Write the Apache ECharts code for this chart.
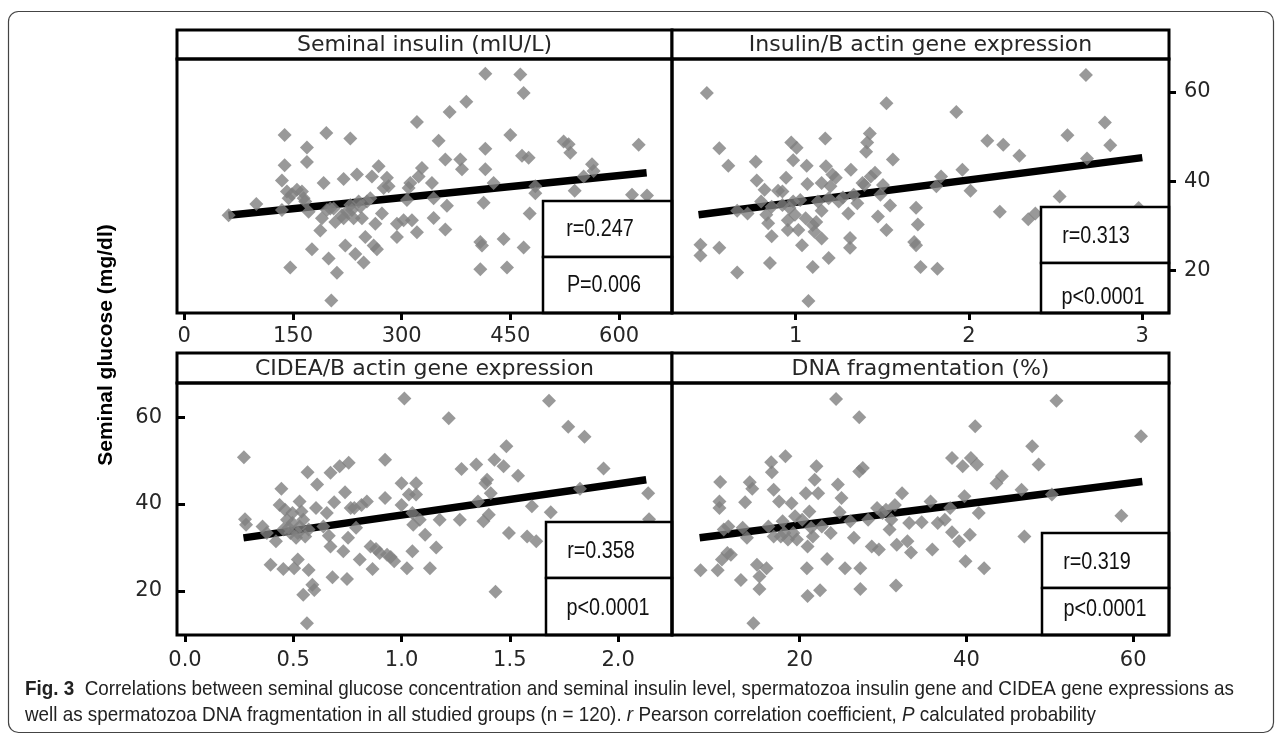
<!DOCTYPE html>
<html><head><meta charset="utf-8">
<script src="https://cdn.jsdelivr.net/npm/echarts@6/dist/echarts.min.js"></script>
<style>html,body{margin:0;padding:0;background:#fff}#c{width:1282px;height:736px}</style>
</head><body><div id="c"></div>
<script>
// ---------------- data ----------------
const panelTitles = ['Seminal insulin (mIU/L)', 'Insulin/B actin gene expression', 'CIDEA/B actin gene expression', 'DNA fragmentation (%)'];
const rTexts = ['r=0.247', 'r=0.313', 'r=0.358', 'r=0.319'];
const pTexts = ['P=0.006', 'p<0.0001', 'p<0.0001', 'p<0.0001'];
const yTitle = 'Seminal glucose (mg/dl)';

const x1Ticks = [0, 150, 300, 450, 600];
const x2Ticks = [1, 2, 3];
const x3Ticks = [0, 0.5, 1.0, 1.5, 2.0];
const x3TickLabels = ['0.0', '0.5', '1.0', '1.5', '2.0'];
const x4Ticks = [20, 40, 60];
const yTicks = [20, 40, 60];

// Panel 1: seminal insulin vs seminal glucose
const p1x = [61.2,99.4,134.8,138.5,138.5,134.8,141.7,144.0,146.3,155.5,162.4,164.7,167.0,169.3,169.3,171.6,176.2,187.7,190.0,192.3,196.0,199.2,201.5,202.9,206.1,208.4,210.7,219.9,219.9,222.2,224.5,229.1,229.1,233.7,236.0,238.3,240.6,245.2,247.5,249.8,256.7,259.0,261.3,263.6,265.9,268.2,272.8,279.7,282.0,293.5,293.5,302.7,307.3,309.6,311.9,314.2,321.1,321.1,323.4,328.0,341.8,344.1,344.1,351.0,360.2,360.2,362.5,366.2,380.9,383.2,389.2,408.5,410.8,408.5,413.1,415.4,415.4,415.4,426.9,440.7,445.3,449.9,463.7,466.0,468.3,468.3,475.2,476.6,484.4,484.4,523.5,530.4,532.7,538.7,551.1,562.6,564.9,617.8,627.0,638.5,148.6,196.9,217.6,231.4,252.1,242.9,275.1];
const p1y = [32.4,34.9,33.6,50.4,43.6,40.2,37.7,36.2,20.7,38.1,37.7,36.2,35.5,47.6,44.3,33.2,24.8,29.0,31.7,39.6,50.8,22.7,33.9,13.3,33.9,30.9,19.5,40.5,31.7,25.6,33.2,49.6,34.7,31.7,23.7,41.5,35.5,31.7,21.8,27.5,36.2,41.1,25.6,30.5,24.8,43.4,32.8,40.8,38.9,30.5,27.5,31.3,35.8,38.5,39.6,31.3,53.3,28.6,41.1,43.0,39.6,36.2,31.8,49.1,44.9,29.2,34.5,55.5,44.9,42.7,57.8,26.4,25.6,20.3,35.2,64.1,47.3,42.7,39.6,27.1,20.7,50.4,63.9,45.7,59.8,25.2,45.3,32.8,38.9,37.3,48.9,48.3,46.4,37.9,41.1,43.8,42.3,37.0,48.2,36.8,37.1,33.6,32.4,33.6,35.5,34.3,38.5];

// Panel 2: insulin/B actin gene expression
const p2x = [0.488,0.560,0.612,0.451,0.451,0.560,0.663,0.663,0.723,0.770,0.776,0.801,0.821,0.831,0.842,0.862,0.852,0.899,0.924,0.945,0.955,0.955,0.975,0.986,0.986,0.996,1.006,1.016,1.027,1.037,1.058,1.064,1.068,1.074,1.099,1.099,1.119,1.129,1.150,1.150,1.150,1.171,1.175,1.191,1.201,1.212,1.232,1.249,1.273,1.304,1.314,1.314,1.319,1.335,1.356,1.386,1.407,1.413,1.428,1.434,1.458,1.475,1.489,1.504,1.524,1.524,1.545,1.561,1.684,1.695,1.695,1.705,1.721,1.812,1.818,1.839,1.927,1.962,2.009,2.106,2.178,2.198,2.291,2.342,2.383,2.523,2.568,2.675,2.681,2.784,2.815,2.979,0.924,0.965,1.109,1.191,0.862,1.397];
const p2y = [59.8,47.4,43.5,25.8,23.4,25.1,33.4,19.6,32.8,44.4,40.2,35.5,38.1,32.5,30.6,27.7,21.7,37.9,37.7,40.8,31.3,29.1,48.7,44.7,35.5,32.5,47.5,29.1,35.8,25.7,31.7,43.5,39.4,13.2,20.8,30.2,30.9,35.5,39.6,33.4,27.2,49.6,43.4,22.8,38.9,41.5,40.8,35.5,36.4,32.8,27.3,25.1,42.6,37.0,35.1,39.6,46.6,48.7,50.7,41.1,41.9,32.1,37.0,39.2,57.5,29.1,34.6,44.9,26.4,25.7,34.1,30.3,20.8,38.9,20.4,41.1,55.5,42.6,37.9,49.1,33.2,48.2,45.7,31.5,32.8,36.6,50.3,63.8,45.1,53.2,48.1,34.0,34.7,34.0,28.7,36.2,34.3,39.2];

// Panel 3: CIDEA/B actin gene expression
const p3x = [0.272,0.277,0.282,0.358,0.378,0.395,0.420,0.437,0.445,0.454,0.462,0.471,0.479,0.487,0.496,0.504,0.513,0.521,0.529,0.529,0.538,0.546,0.555,0.563,0.566,0.571,0.588,0.597,0.605,0.610,0.639,0.655,0.664,0.672,0.672,0.681,0.689,0.714,0.731,0.739,0.748,0.753,0.756,0.765,0.782,0.790,0.807,0.815,0.840,0.857,0.866,0.882,0.899,0.924,0.924,0.933,0.950,0.966,1.000,1.000,1.013,1.025,1.034,1.050,1.050,1.054,1.067,1.067,1.084,1.109,1.131,1.160,1.176,1.218,1.269,1.277,1.345,1.353,1.378,1.387,1.395,1.403,1.412,1.429,1.434,1.471,1.484,1.496,1.538,1.580,1.602,1.622,1.681,1.689,1.770,1.824,1.845,1.933,2.139,2.143,0.496,0.521,0.546,0.454,0.571];
const p3y = [50.8,36.5,35.2,34.8,33.3,26.0,31.4,39.8,43.5,25.0,38.7,36.4,34.5,33.3,37.9,25.2,32.2,27.2,40.6,34.8,38.3,19.1,32.5,12.5,47.3,24.8,21.4,20.2,39.1,44.5,34.8,37.9,32.7,47.2,30.2,23.1,40.4,48.7,29.1,42.7,22.7,32.2,49.5,39.1,39.1,34.5,27.2,39.8,40.6,30.2,25.0,29.6,28.7,50.2,41.4,28.3,27.8,26.8,44.8,39.8,64.3,25.2,42.2,37.9,29.1,35.2,44.8,42.2,36.4,32.9,25.2,30.0,36.4,59.8,36.4,48.1,49.1,40.6,36.0,44.8,45.6,37.5,42.5,50.2,19.8,48.7,53.3,33.3,46.5,32.5,39.5,31.4,63.8,38.1,57.8,43.5,55.5,48.2,42.5,36.5,35.6,33.3,36.4,34.1,34.1];

// Panel 4: DNA fragmentation (%)
const p4x = [8.11,10.16,10.37,10.37,10.46,10.67,10.89,11.32,11.44,11.74,12.94,13.16,13.45,13.67,14.01,14.31,14.44,14.87,15.17,15.17,16.02,16.24,16.58,16.66,16.88,16.88,17.52,17.73,17.95,18.16,18.29,18.59,19.02,19.23,19.44,19.66,20.30,20.73,20.86,20.94,20.94,21.16,21.37,21.58,21.80,22.01,22.22,22.44,22.65,23.29,23.72,24.36,24.58,24.79,25.01,25.43,26.07,26.50,27.14,27.14,27.27,27.27,27.57,28.21,28.64,29.28,29.50,29.93,30.35,30.78,30.99,31.42,31.55,31.64,32.28,32.92,33.13,33.35,34.63,35.70,35.91,36.56,37.41,38.05,38.27,38.27,39.12,39.55,39.76,39.89,40.41,40.53,41.05,41.26,41.48,42.12,43.61,44.26,46.61,46.95,47.89,48.66,50.25,50.80,58.59,60.94];
const p4y = [24.7,24.7,40.6,39.1,45.1,27.2,34.1,28.7,34.8,28.3,22.5,34.5,40.4,32.2,45.0,43.5,12.5,26.0,23.3,20.4,25.2,34.8,49.6,47.3,43.3,32.5,40.6,32.5,36.0,33.3,51.0,31.8,40.2,33.3,37.2,31.8,36.4,42.5,25.2,18.8,30.2,38.3,34.5,32.5,45.6,48.7,42.5,20.1,34.8,27.3,33.3,64.2,44.5,38.1,41.4,25.2,36.0,32.2,60.0,47.5,25.2,20.4,48.3,36.4,30.2,39.1,29.5,37.9,38.7,34.1,36.4,39.8,21.2,30.6,42.5,31.4,35.6,28.8,35.8,40.6,29.5,35.6,36.4,39.1,50.6,33.5,31.4,48.7,41.8,26.8,32.9,50.6,57.9,49.1,37.9,25.2,44.8,46.4,43.3,32.5,53.3,49.1,42.2,63.8,37.3,55.6];

// regression lines as drawn (end points)
const line1x = [61, 638],  line1y = [32.4, 41.9];
const line2x = [0.44, 3.0], line2y = [32.5, 45.3];
const line3x = [0.27, 2.13], line3y = [32.2, 45.6];
const line4x = [8.0, 61.1], line4y = [32.2, 45.2];

const captionFig = 'Fig. 3';
const captionLine1 = 'Correlations between seminal glucose concentration and seminal insulin level, spermatozoa insulin gene and CIDEA gene expressions as';
const captionLine2a = 'well as spermatozoa DNA fragmentation in all studied groups (n = 120). ';
const captionLine2b = ' Pearson correlation coefficient, ';
const captionLine2c = ' calculated probability';

// ---------------- layout ----------------
const grids = [
  {left:177, top:59,  width:495, height:254},
  {left:672, top:59,  width:497, height:254},
  {left:177, top:383, width:495, height:252},
  {left:672, top:383, width:497, height:252}
];
const headerH = [29, 29, 30, 30];
const xRanges = [[-10, 673], [0.287, 3.154], [-0.037, 2.249], [4.68, 64.3]];
const yRanges = [[10.5, 67.4], [10.5, 67.4], [9.8, 67.9], [9.8, 67.9]];
const boxes = [
  {x:543, y:201, w:129, h1:56, h2:56},
  {x:1041, y:207, w:128, h1:56, h2:50},
  {x:546, y:522, w:126, h1:56, h2:57},
  {x:1042, y:533, w:127, h1:55, h2:47}
];
const rPos = [[600,230],[1096,237],[601,552],[1097,563]];
const pPos = [[604,286],[1103,298],[608,609],[1105,610]];

const FONT = '"DejaVu Sans", Verdana, sans-serif';
const ARIAL = '"Liberation Sans", Arial, sans-serif';
const TXT = '#262626';

// horizontal condensation so Liberation Sans mimics the narrow fonts of the figure
const mctx = document.createElement('canvas').getContext('2d');
mctx.font = 'bold 21px ' + ARIAL;
const wFig = mctx.measureText(captionFig).width;
mctx.font = '21px ' + ARIAL;
const wL1 = mctx.measureText('  ' + captionLine1).width;
const capScale = (1234 - 25) / (wFig + wL1);

const xs = [p1x, p2x, p3x, p4x], ys = [p1y, p2y, p3y, p4y];
const lx = [line1x, line2x, line3x, line4x], ly = [line1y, line2y, line3y, line4y];
const xTickSets = [x1Ticks, x2Ticks, x3Ticks, x4Ticks];

const chart = echarts.init(document.getElementById('c'), null, {renderer:'canvas'});

const xAxis = grids.map((g, i) => ({
  type:'value', gridIndex:i, min:xRanges[i][0], max:xRanges[i][1], position:'bottom',
  axisLine:{show:false}, splitLine:{show:false},
  axisTick:{show:true, inside:false, length:7, customValues:xTickSets[i], lineStyle:{color:'#000', width:3}},
  axisLabel:{show:true, customValues:xTickSets[i], margin: i < 2 ? 13 : 15, fontSize:21, fontFamily:FONT, color:TXT,
    formatter: i === 2 ? (v) => x3TickLabels[x3Ticks.indexOf(v)] : (v) => String(v)}
}));
const yAxis = grids.map((g, i) => ({
  type:'value', gridIndex:i, min:yRanges[i][0], max:yRanges[i][1],
  position: i === 1 ? 'right' : 'left',
  axisLine:{show:false}, splitLine:{show:false},
  axisTick:{show: i === 1 || i === 2, inside:false, length:7, customValues:yTicks, lineStyle:{color:'#000', width:3}},
  axisLabel:{show: i === 1 || i === 2, customValues:yTicks, margin:15, fontSize:21, fontFamily:FONT, color:TXT}
}));

const series = [];
for (let i = 0; i < 4; i++) {
  series.push({
    type:'line', xAxisIndex:i, yAxisIndex:i, z:2, silent:true, symbol:'none',
    lineStyle:{color:'#000', width:7.5},
    data: lx[i].map((v, k) => [v, ly[i][k]])
  });
  series.push({
    type:'scatter', xAxisIndex:i, yAxisIndex:i, z:3, silent:true, symbol:'diamond', symbolSize:14,
    itemStyle:{color:'#7f7f7f'},
    data: xs[i].map((v, k) => [v, ys[i][k]])
  });
}

const graphic = [];
graphic.push({type:'rect', z:-1, shape:{x:8.5, y:11.5, width:1265, height:721, r:10}, style:{fill:'none', stroke:'#444', lineWidth:1.2}});
grids.forEach((g, i) => {
  graphic.push({type:'rect', z:50, shape:{x:g.left, y:g.top - headerH[i], width:g.width, height:headerH[i]}, style:{fill:'#fff', stroke:'#000', lineWidth:3}});
  graphic.push({type:'text', z:51, x:g.left + g.width / 2, y:g.top - headerH[i] / 2 + 1,
    style:{text:panelTitles[i], font:'22px ' + FONT, fill:TXT, textAlign:'center', textVerticalAlign:'middle'}});
  const b = boxes[i];
  graphic.push({type:'rect', z:50, shape:{x:b.x, y:b.y, width:b.w, height:b.h1}, style:{fill:'#fff', stroke:'#000', lineWidth:2.5}});
  graphic.push({type:'rect', z:50, shape:{x:b.x, y:b.y + b.h1, width:b.w, height:b.h2}, style:{fill:'#fff', stroke:'#000', lineWidth:2.5}});
  graphic.push({type:'text', z:51, x:rPos[i][0], y:rPos[i][1], scaleX:0.86,
    style:{text:rTexts[i], font:'23px ' + ARIAL, fill:'#111', textAlign:'center', textVerticalAlign:'middle'}});
  graphic.push({type:'text', z:51, x:pPos[i][0], y:pPos[i][1], scaleX:0.86,
    style:{text:pTexts[i], font:'23px ' + ARIAL, fill:'#111', textAlign:'center', textVerticalAlign:'middle'}});
  graphic.push({type:'rect', z:60, shape:{x:g.left, y:g.top, width:g.width, height:g.height}, style:{fill:'none', stroke:'#000', lineWidth:3}});
});
graphic.push({type:'text', z:51, x:106, y:345, rotation:Math.PI / 2,
  style:{text:yTitle, font:'bold 21px ' + ARIAL, fill:'#000', textAlign:'center', textVerticalAlign:'middle'}});
graphic.push({type:'text', z:51, x:25, y:689, scaleX:capScale,
  style:{text:'{b|' + captionFig + '}  ' + captionLine1, font:'21px ' + ARIAL, fill:'#222', textAlign:'left', textVerticalAlign:'middle',
    rich:{b:{fontWeight:'bold', fontSize:21, fontFamily:ARIAL, fill:'#222'}}}});
graphic.push({type:'text', z:51, x:25, y:715, scaleX:capScale,
  style:{text:captionLine2a + '{i|r}' + captionLine2b + '{i|P}' + captionLine2c, font:'21px ' + ARIAL, fill:'#222', textAlign:'left', textVerticalAlign:'middle',
    rich:{i:{fontStyle:'italic', fontSize:21, fontFamily:ARIAL, fill:'#222'}}}});

chart.setOption({
  animation:false,
  backgroundColor:'#fff',
  grid: grids.map(g => ({left:g.left, top:g.top, width:g.width, height:g.height, show:true, backgroundColor:'#fff', borderColor:'#000', borderWidth:0})),
  xAxis, yAxis, series, graphic
});
</script></body></html>
